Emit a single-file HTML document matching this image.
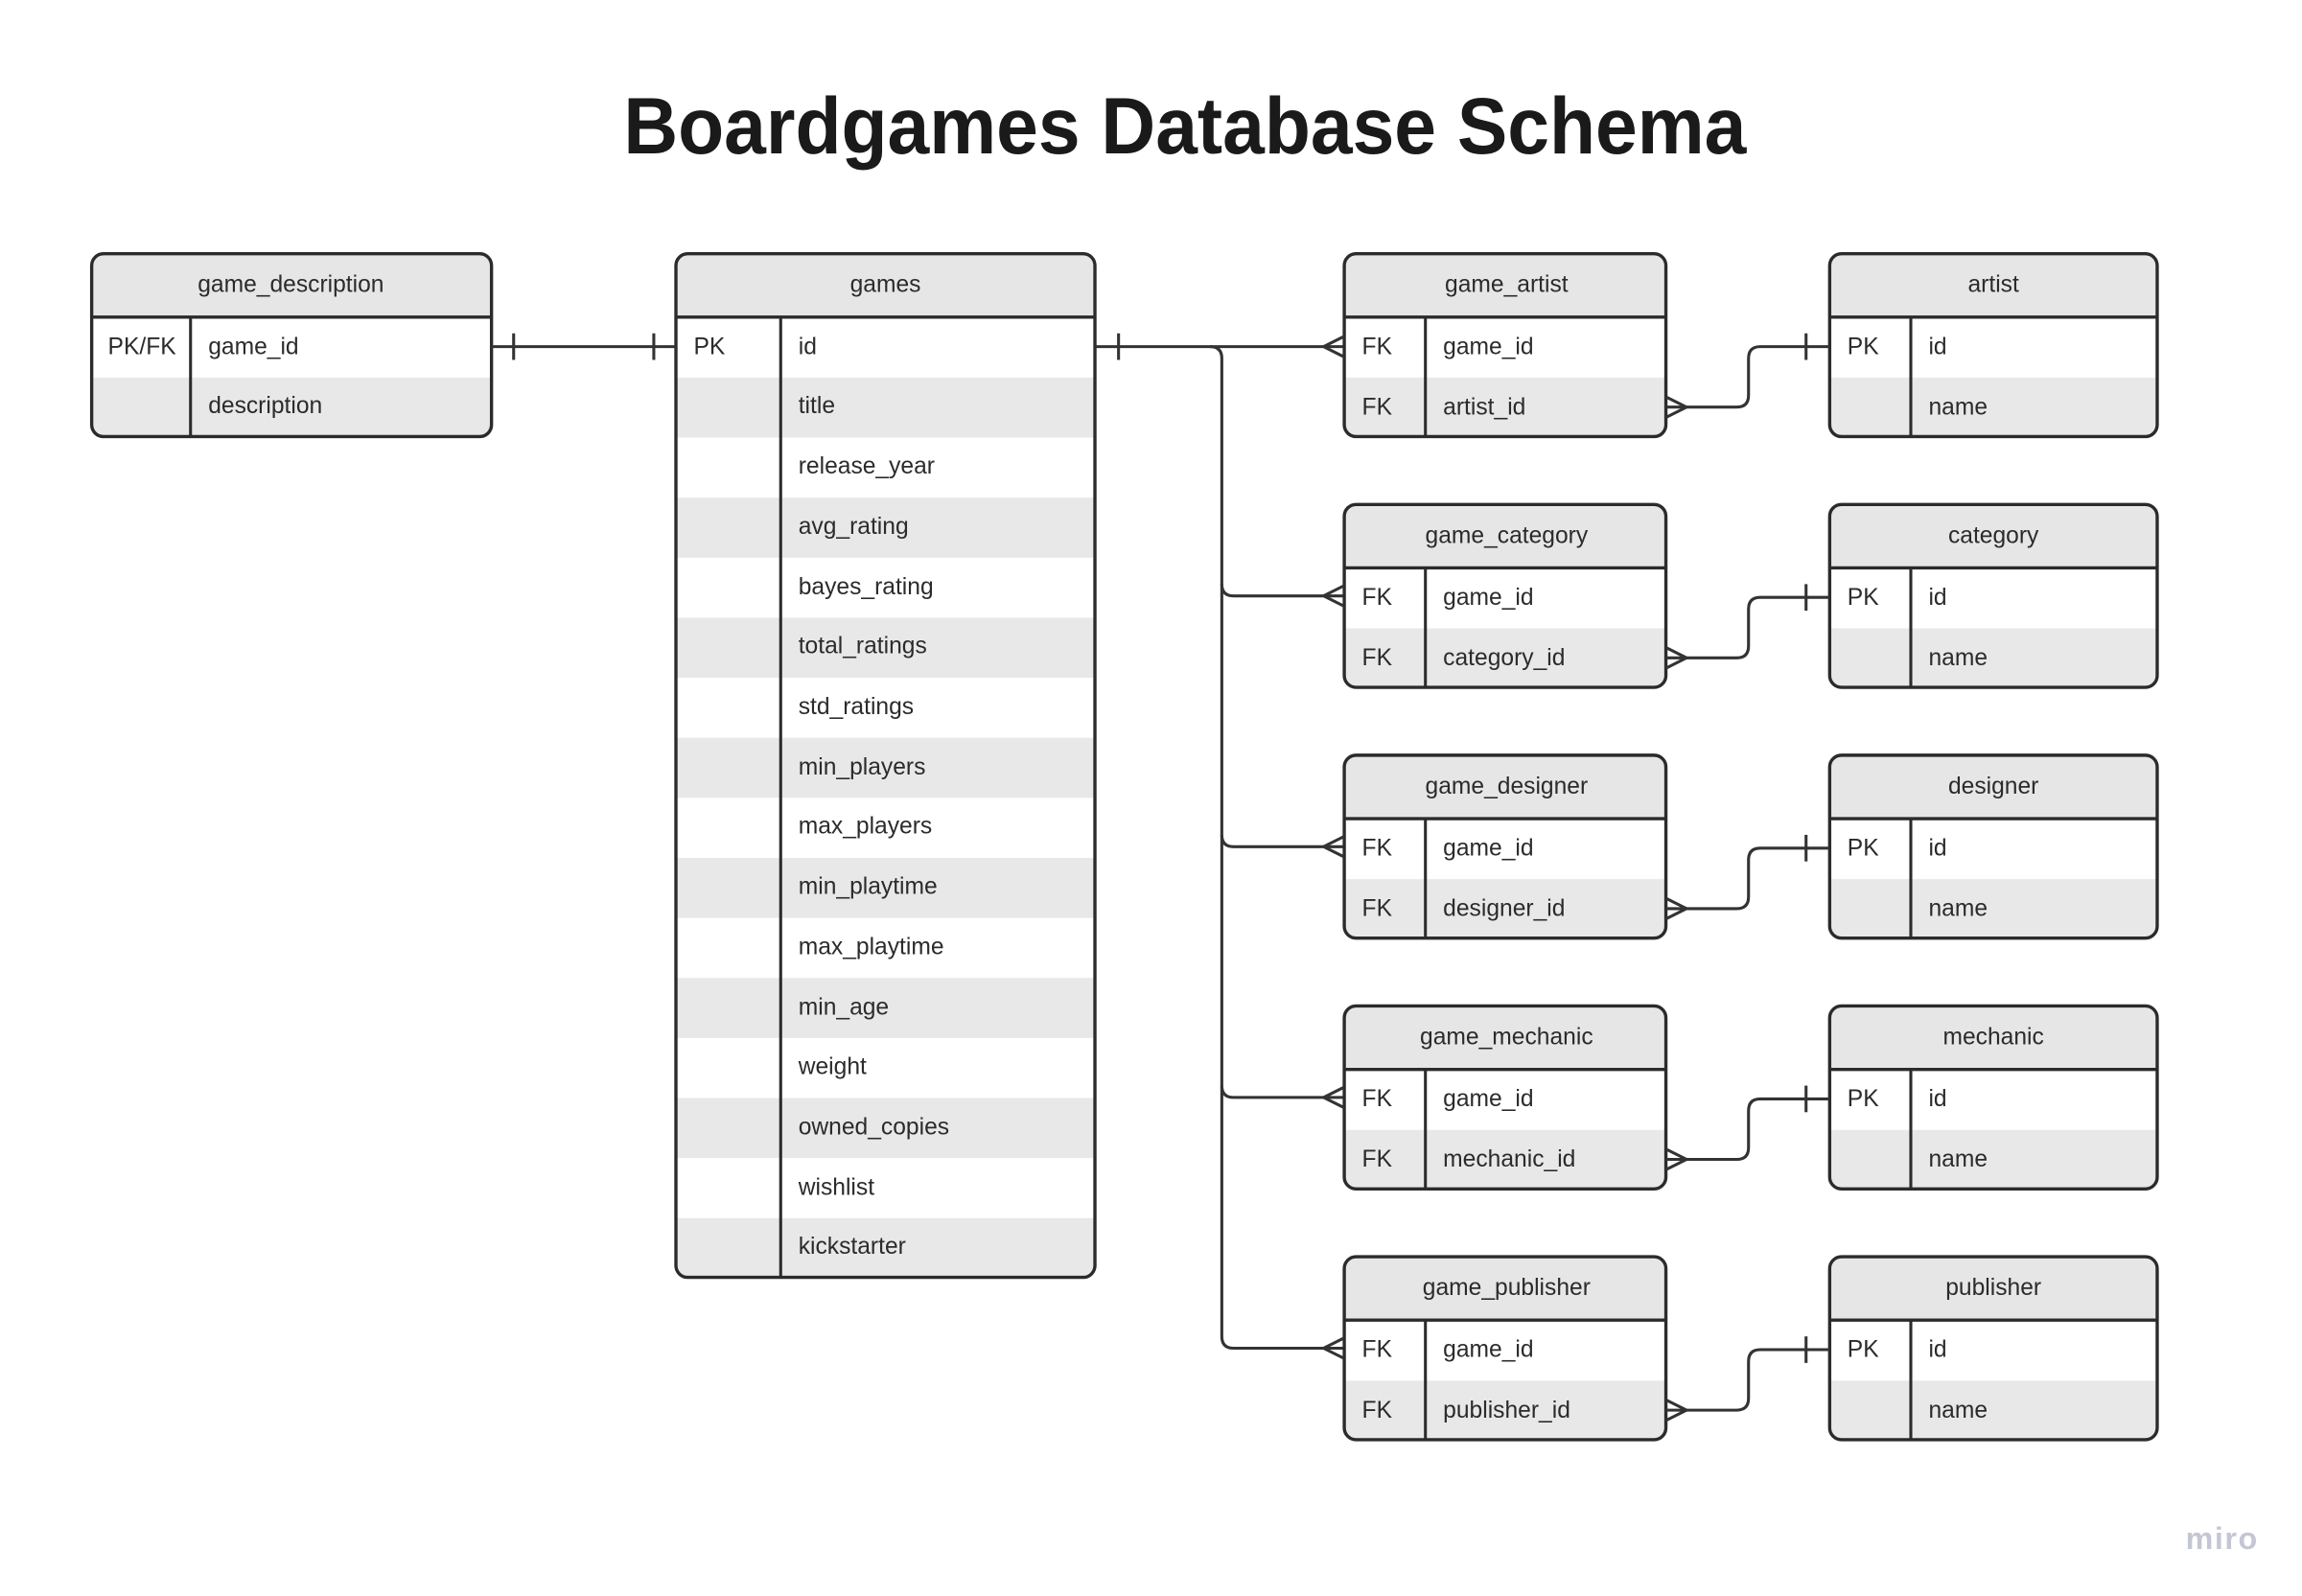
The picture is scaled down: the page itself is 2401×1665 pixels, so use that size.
<!DOCTYPE html>
<html><head><meta charset="utf-8"><style>
html,body{margin:0;padding:0;background:#fff;}
svg{display:block;}
text{font-family:"Liberation Sans",sans-serif;fill:#2b2b2b;}
</style></head><body>
<svg width="2401" height="1665" viewBox="0 0 1560 1082" xmlns="http://www.w3.org/2000/svg">
<rect width="1560" height="1082" fill="#fff"/>
<text x="803" y="104" text-anchor="middle" textLength="761" lengthAdjust="spacingAndGlyphs" style="font-weight:bold;font-size:54px;fill:#1a1a1a">Boardgames Database Schema</text>
<defs>
<clipPath id="c1"><rect x="62" y="172" width="271" height="124" rx="8"/></clipPath>
<clipPath id="c2"><rect x="458" y="172" width="284" height="694" rx="8"/></clipPath>
<clipPath id="c3"><rect x="0" y="0" width="218" height="124" rx="8"/></clipPath>
<clipPath id="c4"><rect x="0" y="0" width="222" height="124" rx="8"/></clipPath>
</defs>

<g clip-path="url(#c1)">
<rect x="62" y="172" width="271" height="124" fill="#fff"/>
<rect x="62" y="172" width="271" height="43" fill="#e6e6e6"/>
<rect x="62" y="256" width="271" height="40" fill="#e8e8e8"/>
</g>
<rect x="62" y="172" width="271" height="124" rx="8" fill="none" stroke="#2b2b2b" stroke-width="2.2"/>
<line x1="62" y1="215" x2="333" y2="215" stroke="#2b2b2b" stroke-width="2.2"/>
<line x1="129" y1="215" x2="129" y2="296" stroke="#2b2b2b" stroke-width="2"/>
<text x="197" y="198" text-anchor="middle" font-size="16">game_description</text>
<text x="73" y="240" font-size="16">PK/FK</text>
<text x="141" y="240" font-size="16">game_id</text>
<text x="141" y="280" font-size="16">description</text>

<g clip-path="url(#c2)">
<rect x="458" y="172" width="284" height="694" fill="#fff"/>
<rect x="458" y="172" width="284" height="43" fill="#e6e6e6"/>
<rect x="458" y="256" width="284" height="40.7" fill="#e8e8e8"/>
<rect x="458" y="337.4" width="284" height="40.7" fill="#e8e8e8"/>
<rect x="458" y="418.8" width="284" height="40.7" fill="#e8e8e8"/>
<rect x="458" y="500.2" width="284" height="40.7" fill="#e8e8e8"/>
<rect x="458" y="581.6" width="284" height="40.7" fill="#e8e8e8"/>
<rect x="458" y="663" width="284" height="40.7" fill="#e8e8e8"/>
<rect x="458" y="744.4" width="284" height="40.7" fill="#e8e8e8"/>
<rect x="458" y="825.8" width="284" height="41" fill="#e8e8e8"/>
</g>
<rect x="458" y="172" width="284" height="694" rx="8" fill="none" stroke="#2b2b2b" stroke-width="2.2"/>
<line x1="458" y1="215" x2="742" y2="215" stroke="#2b2b2b" stroke-width="2.2"/>
<line x1="529" y1="215" x2="529" y2="866" stroke="#2b2b2b" stroke-width="2"/>
<text x="600" y="198" text-anchor="middle" font-size="16">games</text>
<text x="470" y="240" font-size="16">PK</text>
<g font-size="16">
<text x="541" y="240">id</text>
<text x="541" y="280">title</text>
<text x="541" y="321">release_year</text>
<text x="541" y="362">avg_rating</text>
<text x="541" y="403">bayes_rating</text>
<text x="541" y="443">total_ratings</text>
<text x="541" y="484">std_ratings</text>
<text x="541" y="525">min_players</text>
<text x="541" y="565">max_players</text>
<text x="541" y="606">min_playtime</text>
<text x="541" y="647">max_playtime</text>
<text x="541" y="688">min_age</text>
<text x="541" y="728">weight</text>
<text x="541" y="769">owned_copies</text>
<text x="541" y="810">wishlist</text>
<text x="541" y="850">kickstarter</text>
</g>

<g stroke="#333" stroke-width="2" fill="none">
<line x1="333" y1="235" x2="458" y2="235"/>
<line x1="348" y1="226" x2="348" y2="244"/>
<line x1="443" y1="226" x2="443" y2="244"/>
<line x1="742" y1="235" x2="911" y2="235"/>
<line x1="758" y1="226" x2="758" y2="244"/>
<path d="M820 235 Q828 235 828 243 L828 906 Q828 914 836 914 L911 914"/>
<path d="M828 396 Q828 404 836 404 L911 404"/>
<path d="M828 566 Q828 574 836 574 L911 574"/>
<path d="M828 736 Q828 744 836 744 L911 744"/>
</g>

<g transform="translate(911,172)">
<g clip-path="url(#c3)"><rect width="218" height="124" fill="#fff"/><rect width="218" height="43" fill="#e6e6e6"/><rect y="84" width="218" height="40" fill="#e8e8e8"/></g>
<rect width="218" height="124" rx="8" fill="none" stroke="#2b2b2b" stroke-width="2.2"/>
<line x1="0" y1="43" x2="218" y2="43" stroke="#2b2b2b" stroke-width="2.2"/>
<line x1="55" y1="43" x2="55" y2="124" stroke="#2b2b2b" stroke-width="2"/>
<text x="110" y="26" text-anchor="middle" font-size="16">game_artist</text>
<text x="12" y="68" font-size="16">FK</text><text x="67" y="68" font-size="16">game_id</text>
<text x="12" y="109" font-size="16">FK</text><text x="67" y="109" font-size="16">artist_id</text>
</g>
<g transform="translate(911,342)">
<g clip-path="url(#c3)"><rect width="218" height="124" fill="#fff"/><rect width="218" height="43" fill="#e6e6e6"/><rect y="84" width="218" height="40" fill="#e8e8e8"/></g>
<rect width="218" height="124" rx="8" fill="none" stroke="#2b2b2b" stroke-width="2.2"/>
<line x1="0" y1="43" x2="218" y2="43" stroke="#2b2b2b" stroke-width="2.2"/>
<line x1="55" y1="43" x2="55" y2="124" stroke="#2b2b2b" stroke-width="2"/>
<text x="110" y="26" text-anchor="middle" font-size="16">game_category</text>
<text x="12" y="68" font-size="16">FK</text><text x="67" y="68" font-size="16">game_id</text>
<text x="12" y="109" font-size="16">FK</text><text x="67" y="109" font-size="16">category_id</text>
</g>
<g transform="translate(911,512)">
<g clip-path="url(#c3)"><rect width="218" height="124" fill="#fff"/><rect width="218" height="43" fill="#e6e6e6"/><rect y="84" width="218" height="40" fill="#e8e8e8"/></g>
<rect width="218" height="124" rx="8" fill="none" stroke="#2b2b2b" stroke-width="2.2"/>
<line x1="0" y1="43" x2="218" y2="43" stroke="#2b2b2b" stroke-width="2.2"/>
<line x1="55" y1="43" x2="55" y2="124" stroke="#2b2b2b" stroke-width="2"/>
<text x="110" y="26" text-anchor="middle" font-size="16">game_designer</text>
<text x="12" y="68" font-size="16">FK</text><text x="67" y="68" font-size="16">game_id</text>
<text x="12" y="109" font-size="16">FK</text><text x="67" y="109" font-size="16">designer_id</text>
</g>
<g transform="translate(911,682)">
<g clip-path="url(#c3)"><rect width="218" height="124" fill="#fff"/><rect width="218" height="43" fill="#e6e6e6"/><rect y="84" width="218" height="40" fill="#e8e8e8"/></g>
<rect width="218" height="124" rx="8" fill="none" stroke="#2b2b2b" stroke-width="2.2"/>
<line x1="0" y1="43" x2="218" y2="43" stroke="#2b2b2b" stroke-width="2.2"/>
<line x1="55" y1="43" x2="55" y2="124" stroke="#2b2b2b" stroke-width="2"/>
<text x="110" y="26" text-anchor="middle" font-size="16">game_mechanic</text>
<text x="12" y="68" font-size="16">FK</text><text x="67" y="68" font-size="16">game_id</text>
<text x="12" y="109" font-size="16">FK</text><text x="67" y="109" font-size="16">mechanic_id</text>
</g>
<g transform="translate(911,852)">
<g clip-path="url(#c3)"><rect width="218" height="124" fill="#fff"/><rect width="218" height="43" fill="#e6e6e6"/><rect y="84" width="218" height="40" fill="#e8e8e8"/></g>
<rect width="218" height="124" rx="8" fill="none" stroke="#2b2b2b" stroke-width="2.2"/>
<line x1="0" y1="43" x2="218" y2="43" stroke="#2b2b2b" stroke-width="2.2"/>
<line x1="55" y1="43" x2="55" y2="124" stroke="#2b2b2b" stroke-width="2"/>
<text x="110" y="26" text-anchor="middle" font-size="16">game_publisher</text>
<text x="12" y="68" font-size="16">FK</text><text x="67" y="68" font-size="16">game_id</text>
<text x="12" y="109" font-size="16">FK</text><text x="67" y="109" font-size="16">publisher_id</text>
</g>

<g transform="translate(1240,172)">
<g clip-path="url(#c4)"><rect width="222" height="124" fill="#fff"/><rect width="222" height="43" fill="#e6e6e6"/><rect y="84" width="222" height="40" fill="#e8e8e8"/></g>
<rect width="222" height="124" rx="8" fill="none" stroke="#2b2b2b" stroke-width="2.2"/>
<line x1="0" y1="43" x2="222" y2="43" stroke="#2b2b2b" stroke-width="2.2"/>
<line x1="55" y1="43" x2="55" y2="124" stroke="#2b2b2b" stroke-width="2"/>
<text x="111" y="26" text-anchor="middle" font-size="16">artist</text>
<text x="12" y="68" font-size="16">PK</text><text x="67" y="68" font-size="16">id</text>
<text x="67" y="109" font-size="16">name</text>
</g>
<g transform="translate(1240,342)">
<g clip-path="url(#c4)"><rect width="222" height="124" fill="#fff"/><rect width="222" height="43" fill="#e6e6e6"/><rect y="84" width="222" height="40" fill="#e8e8e8"/></g>
<rect width="222" height="124" rx="8" fill="none" stroke="#2b2b2b" stroke-width="2.2"/>
<line x1="0" y1="43" x2="222" y2="43" stroke="#2b2b2b" stroke-width="2.2"/>
<line x1="55" y1="43" x2="55" y2="124" stroke="#2b2b2b" stroke-width="2"/>
<text x="111" y="26" text-anchor="middle" font-size="16">category</text>
<text x="12" y="68" font-size="16">PK</text><text x="67" y="68" font-size="16">id</text>
<text x="67" y="109" font-size="16">name</text>
</g>
<g transform="translate(1240,512)">
<g clip-path="url(#c4)"><rect width="222" height="124" fill="#fff"/><rect width="222" height="43" fill="#e6e6e6"/><rect y="84" width="222" height="40" fill="#e8e8e8"/></g>
<rect width="222" height="124" rx="8" fill="none" stroke="#2b2b2b" stroke-width="2.2"/>
<line x1="0" y1="43" x2="222" y2="43" stroke="#2b2b2b" stroke-width="2.2"/>
<line x1="55" y1="43" x2="55" y2="124" stroke="#2b2b2b" stroke-width="2"/>
<text x="111" y="26" text-anchor="middle" font-size="16">designer</text>
<text x="12" y="68" font-size="16">PK</text><text x="67" y="68" font-size="16">id</text>
<text x="67" y="109" font-size="16">name</text>
</g>
<g transform="translate(1240,682)">
<g clip-path="url(#c4)"><rect width="222" height="124" fill="#fff"/><rect width="222" height="43" fill="#e6e6e6"/><rect y="84" width="222" height="40" fill="#e8e8e8"/></g>
<rect width="222" height="124" rx="8" fill="none" stroke="#2b2b2b" stroke-width="2.2"/>
<line x1="0" y1="43" x2="222" y2="43" stroke="#2b2b2b" stroke-width="2.2"/>
<line x1="55" y1="43" x2="55" y2="124" stroke="#2b2b2b" stroke-width="2"/>
<text x="111" y="26" text-anchor="middle" font-size="16">mechanic</text>
<text x="12" y="68" font-size="16">PK</text><text x="67" y="68" font-size="16">id</text>
<text x="67" y="109" font-size="16">name</text>
</g>
<g transform="translate(1240,852)">
<g clip-path="url(#c4)"><rect width="222" height="124" fill="#fff"/><rect width="222" height="43" fill="#e6e6e6"/><rect y="84" width="222" height="40" fill="#e8e8e8"/></g>
<rect width="222" height="124" rx="8" fill="none" stroke="#2b2b2b" stroke-width="2.2"/>
<line x1="0" y1="43" x2="222" y2="43" stroke="#2b2b2b" stroke-width="2.2"/>
<line x1="55" y1="43" x2="55" y2="124" stroke="#2b2b2b" stroke-width="2"/>
<text x="111" y="26" text-anchor="middle" font-size="16">publisher</text>
<text x="12" y="68" font-size="16">PK</text><text x="67" y="68" font-size="16">id</text>
<text x="67" y="109" font-size="16">name</text>
</g>

<g stroke="#333" stroke-width="2" fill="none">
<path d="M911 228 L897 235 L911 242"/>
<path d="M911 397 L897 404 L911 411"/>
<path d="M911 567 L897 574 L911 581"/>
<path d="M911 737 L897 744 L911 751"/>
<path d="M911 907 L897 914 L911 921"/>
<path d="M1129 276 L1177 276 Q1185 276 1185 268 L1185 243 Q1185 235 1193 235 L1240 235"/>
<path d="M1129 269 L1143 276 L1129 283"/>
<line x1="1224" y1="226" x2="1224" y2="244"/>
<path d="M1129 446 L1177 446 Q1185 446 1185 438 L1185 413 Q1185 405 1193 405 L1240 405"/>
<path d="M1129 439 L1143 446 L1129 453"/>
<line x1="1224" y1="396" x2="1224" y2="414"/>
<path d="M1129 616 L1177 616 Q1185 616 1185 608 L1185 583 Q1185 575 1193 575 L1240 575"/>
<path d="M1129 609 L1143 616 L1129 623"/>
<line x1="1224" y1="566" x2="1224" y2="584"/>
<path d="M1129 786 L1177 786 Q1185 786 1185 778 L1185 753 Q1185 745 1193 745 L1240 745"/>
<path d="M1129 779 L1143 786 L1129 793"/>
<line x1="1224" y1="736" x2="1224" y2="754"/>
<path d="M1129 956 L1177 956 Q1185 956 1185 948 L1185 923 Q1185 915 1193 915 L1240 915"/>
<path d="M1129 949 L1143 956 L1129 963"/>
<line x1="1224" y1="906" x2="1224" y2="924"/>
</g>

<text x="1506" y="1050" text-anchor="middle" style="font-size:21px;fill:#c4c7d3;font-weight:600;letter-spacing:1px">miro</text>
</svg>
</body></html>
